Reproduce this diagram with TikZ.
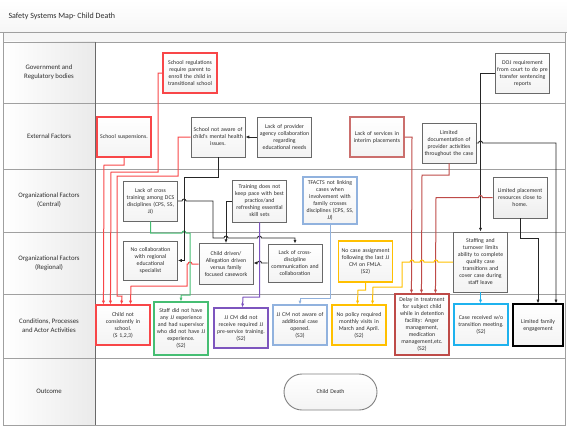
\documentclass[tikz,border=0pt]{standalone}
\usepackage{fontspec}
\setmainfont{Carlito}
\usetikzlibrary{arrows.meta,calc}

\definecolor{sred}{RGB}{248,70,72}
\definecolor{dred}{RGB}{190,75,72}
\definecolor{sgreen}{RGB}{70,190,115}
\definecolor{spurple}{RGB}{125,85,190}
\definecolor{sblue}{RGB}{145,178,222}
\definecolor{syellow}{RGB}{255,192,0}
\definecolor{scyan}{RGB}{30,178,238}
\definecolor{boxgray}{RGB}{105,105,105}
\definecolor{gridgray}{RGB}{160,160,160}
\definecolor{txtgray}{RGB}{45,45,45}

\begin{document}
\begin{tikzpicture}[x=1pt, y=-1pt,
    factor/.style={draw=boxgray, line width=0.9pt, top color=white, bottom color=gray!9, text width=51pt, inner xsep=1.5pt, inner ysep=1pt, minimum height=40pt, align=center, text=txtgray, font=\fontsize{5.8}{7}\selectfont},
    hot/.style={line width=1.1pt},
    rowlabel/.style={align=center, text=txtgray, font=\fontsize{6.8}{9}\selectfont},
    link/.style={-{Latex[length=3.8pt,width=3.2pt]}, line width=1pt},
    redline/.style={link, draw=sred},
    dredline/.style={link, draw=dred},
    greenline/.style={link, draw=sgreen},
    purpline/.style={link, draw=spurple},
    blueline/.style={link, draw=sblue},
    yellowline/.style={link, draw=syellow},
    cyanline/.style={link, draw=scyan},
    blackline/.style={link, draw=black!85, line width=0.85pt}
]
    \useasboundingbox (0,0) rectangle (567,428);
    \shade[top color=white, bottom color=gray!7] (0,0) rectangle (567,32);
    \fill[gray!7] (3,32) rectangle (565,42);
    \node[anchor=west, text=txtgray, font=\fontsize{8}{9}\selectfont] (title) at (5,16) {Safety Systems Map- Child Death};
    \draw[gridgray, line width=0.8pt] (0,32) -- (567,32);

    \foreach \ya/\yb/\lbl in {42/103/{Government and\\Regulatory bodies}, 103/169/{External Factors}, 169/232/{Organizational Factors\\(Central)}, 232/294/{Organizational Factors\\(Regional)}, 294/358/{Conditions, Processes\\and Actor Activities}, 358/425/{Outcome}} {
        \shade[left color=white, right color=gray!16] (3,\ya) rectangle (95,\yb);
        \node[rowlabel] (lbl-\ya) at (49,{(\ya+\yb)/2}) {\lbl};
    }
    \foreach \y in {42,103,169,232,294,358}
        \draw[gridgray, line width=0.8pt] (3,\y) -- (565,\y);
    \draw[gridgray, line width=0.9pt] (3,32) rectangle (565,425);
    \draw[boxgray, line width=0.9pt] (95,42) -- (95,425);

    % Government and regulatory bodies
    \node[factor, hot, draw=sred] (regs) at (190,73) {School regulations\\require parent to\\enroll the child in\\transitional school};
    \node[factor] (doj) at (522.5,73) {DOJ requirement\\from court to do pre\\transfer sentencing\\reports};

    % External factors
    \node[factor, hot, draw=sred] (susp) at (124,137) {School suspensions.};
    \node[factor] (aware) at (218,137) {School not aware of\\child's mental health\\issues.};
    \node[factor] (provider) at (284.5,137) {Lack of provider\\agency collaboration\\regarding\\educational needs};
    \node[factor, hot, draw=dred!80!white] (interim) at (377,137) {Lack of services in\\interim placements};
    \node[factor] (docu) at (449,143) {Limited\\documentation of\\provider activities\\throughout the case};

    % Organizational factors (central)
    \node[factor] (crosstrain) at (150.5,201) {Lack of cross\\training among DCS\\disciplines (CPS, SS,\\JJ)};
    \node[factor, minimum height=42pt] (training) at (259.5,201) {Training does not\\keep pace with best\\practice/and\\refreshing essential\\skill sets};
    \node[factor, hot, draw=sblue, minimum height=47pt] (tfacts) at (330,200.5) {TFACTS not linking\\cases when\\involvement with\\family crosses\\disciplines (CPS, SS,\\JJ)};
    \node[factor, minimum height=41pt, bottom color=gray!14] (placement) at (520,197.5) {Limited placement\\resources close to\\home.};

    % Organizational factors (regional)
    \node[factor, minimum height=39pt] (nocollab) at (150.5,260.5) {No collaboration\\with regional\\educational\\specialist};
    \node[factor, minimum height=41pt] (childdriven) at (226,264) {Child driven/\\Allegation driven\\versus family\\focused casework};
    \node[factor, minimum height=38pt] (crossdisc) at (295,263) {Lack of cross-\\discipline\\communication and\\collaboration};
    \node[factor, hot, draw=syellow, minimum height=41pt] (nocase) at (365.5,261.5) {No case assignment\\following the last JJ\\CM on FMLA.\\(S2)};
    \node[factor, minimum height=60pt] (staffing) at (480.5,262) {Staffing and\\turnover limits\\ability to complete\\quality case\\transitions and\\cover case during\\staff leave};

    % Conditions, processes and actor activities
    \node[factor, hot, draw=sred] (notschool) at (123,325) {Child not\\consistently in\\school.\\(S 1,2,3)};
    \node[factor, hot, draw=sgreen, minimum height=53pt] (staff) at (181,328.5) {Staff did not have\\any JJ experience\\and had supervisor\\who did not have JJ\\experience.\\(S2)};
    \node[factor, hot, draw=spurple] (cmtrain) at (241,328) {JJ CM did not\\receive required JJ\\pre-service training.\\(S2)};
    \node[factor, hot, draw=sblue] (cmaware) at (300,325) {JJ CM not aware of\\additional case\\opened.\\(S3)};
    \node[factor, hot, draw=syellow] (policy) at (359,325) {No policy required\\monthly visits in\\March and April.\\(S2)};
    \node[factor, hot, draw=dred, minimum height=61pt] (delay) at (422,324.5) {Delay in treatment\\for subject child\\while in detention\\facility: Anger\\management,\\medication\\management,etc.\\(S2)};
    \node[factor, hot, draw=scyan, minimum height=41pt] (received) at (481,324.5) {Case received w/o\\transition meeting.\\(S2)};
    \node[factor, draw=black, line width=1.2pt, text width=47pt, minimum height=42pt] (family) at (538,325) {Limited family\\engagement};

    % Outcome
    \node[factor, draw=gray, text width=90pt, minimum height=36pt, rounded corners=18pt] (death) at (330.5,392) {Child Death};

    % connectors
    \draw[redline] (susp.south) -- (124,165) -- (104,165) -- ($(notschool.north west)+(8,0)$);
    \draw[redline] (regs.west) -- (158,73) -- (158,172) -- (111,172) -- ($(notschool.north west)+(15,0)$);
    \draw[redline] (aware.west) -- (178,137) -- (178,176) -- (117,176) -- (117,296) -- (122,296) -- ($(notschool.north west)+(26,0)$);
    \draw[redline] (childdriven.west) -- (192,264) arc (0:-180:2) -- (187,264) -- (187,286) -- (131,286) -- ($(notschool.north west)+(35,0)$);

    \draw[greenline] (crosstrain.south) -- (150.5,233) -- (182,233) arc (180:360:2) -- (190,233) -- (190,295) -- (181,295) -- (staff.north);

    \draw[blackline] (aware.south) -- (218,177) -- (184,177) |- (nocollab.east);
    \draw[blackline] (crosstrain.east) -- (182,201) arc (180:360:2) -- (213,201) -- (213,238) -- (224,238) arc (180:360:2) -- (257.5,238) arc (180:360:2) -- (295,238) -- (crossdisc.north);
    \draw[blackline] (training.west) -| (childdriven.north);
    \draw[blackline] (crossdisc.west) -- (261.5,263) arc (0:-180:2) -- (childdriven.east |- crossdisc.west);
    \draw[blackline] (provider.west) -- (aware.east);
    \draw[blackline] (doj.west) -| (staffing.north);
    \draw[blackline] (docu.east) -- (478.5,143) arc (180:360:2) -- (556,143) -- ($(family.north)+(18,0)$);
    \draw[blackline] (placement.south) -- (520,238) -| (family.north);

    \draw[dredline] (interim.east) -- (412,137) -- ($(delay.north west)+(17,0)$);
    \draw[dredline] (docu.south) -- (449,175) -- (422,175) -- ($(delay.north west)+(27,0)$);
    \draw[dredline] (placement.west) -- (482.5,197.5) arc (0:-180:2) -- (436,197.5) -- ($(delay.north west)+(41,0)$);

    \draw[yellowline] (nocase.south) -- (365.5,290) -- (358,290) -- ($(policy.north west)+(26,0)$);
    \draw[yellowline] (staffing.west) -- (438,262) arc (0:-180:2) -- (424,262) arc (0:-180:2) -- (414,262) arc (0:-180:2) -- (402,262) -- (402,287) -- (373,287) -- ($(policy.north west)+(41,0)$);

    \draw[purpline] (training.south) -- (259.5,297) -- (243,297) -- ($(cmtrain.north west)+(29,0)$);
    \draw[blueline] (tfacts.south) -- (330,298) -| (cmaware.north);
    \draw[cyanline] (staffing.south) -- (staffing.south |- received.north);
\end{tikzpicture}
\end{document}
